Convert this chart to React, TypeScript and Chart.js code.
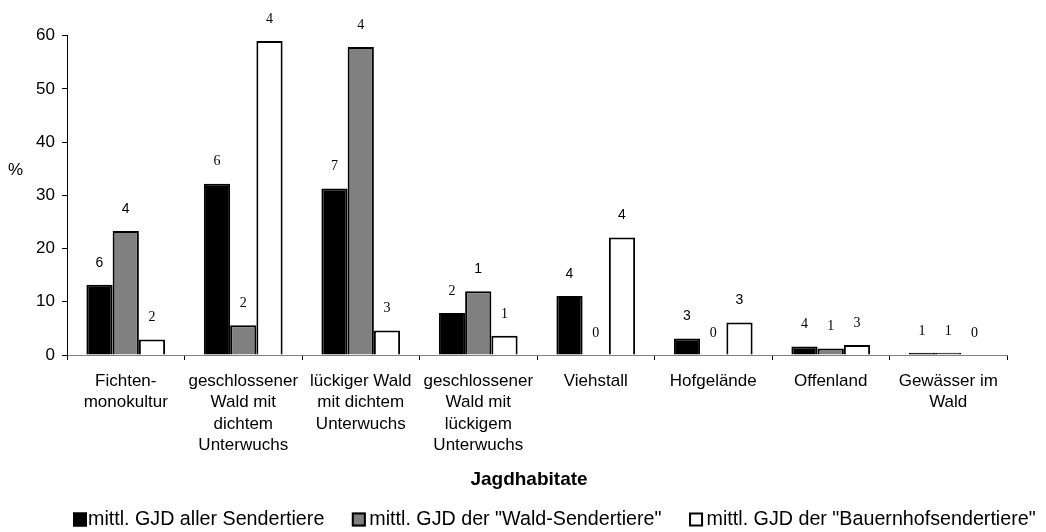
import React, { useEffect, useRef } from "react";
import { Chart, registerables } from "chart.js";

Chart.register(...registerables);

const categories: string[][] = [
  ["Fichten-", "monokultur"],
  ["geschlossener", "Wald mit", "dichtem", "Unterwuchs"],
  ["lückiger Wald", "mit dichtem", "Unterwuchs"],
  ["geschlossener", "Wald mit", "lückigem", "Unterwuchs"],
  ["Viehstall"],
  ["Hofgelände"],
  ["Offenland"],
  ["Gewässer im", "Wald"],
];

const seriesNames = [
  "mittl. GJD aller Sendertiere",
  'mittl. GJD der "Wald-Sendertiere"',
  'mittl. GJD der "Bauernhofsendertiere"',
];

const xTitle = "Jagdhabitate";
const yUnit = "%";

const allSender = [13.2, 32.2, 31.3, 7.9, 11.1, 3.1, 1.6, 0.4];
const waldSender = [23.3, 5.6, 57.9, 12.0, 0, 0, 1.2, 0.4];
const hofSender = [2.9, 59.0, 4.6, 3.6, 22.1, 6.1, 1.9, 0];

const allCounts = ["6", "6", "7", "2", "4", "3", "4", "1"];
const waldCounts = ["4", "2", "4", "1", "0", "0", "1", "1"];
const hofCounts = ["2", "4", "3", "1", "4", "3", "3", "0"];

const yMin = 0;
const yMax = 60;
const yStep = 10;

const SANS = "'Liberation Sans', Arial, Helvetica, sans-serif";
const SERIF = "'Liberation Serif', 'Times New Roman', serif";

// which count labels are set in the sans font in the original (series, category)
const sansCountLabels: number[][] = [
  [0, 0], [1, 0], [1, 3], [0, 4], [2, 4], [0, 5], [2, 5],
];

const countLabels = [allCounts, waldCounts, hofCounts];

const countPlugin = {
  id: "countLabels",
  afterDatasetsDraw(chart: any) {
    const ctx = chart.ctx;
    ctx.save();
    ctx.textAlign = "center";
    ctx.textBaseline = "middle";
    ctx.fillStyle = "#000";
    chart.data.datasets.forEach((_ds: any, i: number) => {
      const meta = chart.getDatasetMeta(i);
      meta.data.forEach((el: any, j: number) => {
        const sans = sansCountLabels.some(([a, b]) => a === i && b === j);
        ctx.font = sans ? `14px ${SANS}` : `14px ${SERIF}`;
        ctx.fillText(countLabels[i][j], el.x, el.y - 22);
      });
    });
    ctx.restore();
  },
};

const extrasPlugin = {
  id: "extras",
  afterDraw(chart: any) {
    const ctx = chart.ctx;
    const area = chart.chartArea;
    ctx.save();
    ctx.fillStyle = "#000";
    ctx.textBaseline = "middle";

    // y unit label
    ctx.font = `17px ${SANS}`;
    ctx.textAlign = "center";
    ctx.fillText(yUnit, 15.5, 170);

    // x axis title
    ctx.font = `bold 19px ${SANS}`;
    ctx.fillText(xTitle, area.left + 462, 480);

    // legend
    const y = 519.5;
    let x = area.left + 6;
    ctx.font = `19.7px ${SANS}`;
    ctx.textAlign = "left";
    chart.data.datasets.forEach((ds: any, i: number) => {
      const box = 14;
      ctx.fillStyle = ds.backgroundColor;
      ctx.fillRect(x, y - box / 2, box, box);
      ctx.strokeStyle = "#000";
      ctx.lineWidth = 2;
      ctx.strokeRect(x + 1, y - box / 2 + 1, box - 2, box - 2);
      ctx.fillStyle = "#000";
      const tx = x + (i === 0 ? 15 : 17.5);
      ctx.fillText(ds.label, tx, y);
      x = tx + ctx.measureText(ds.label).width + 27.5;
    });
    ctx.restore();
  },
};

export default function App() {
  const canvasRef = useRef<HTMLCanvasElement | null>(null);

  useEffect(() => {
    if (!canvasRef.current) return;
    const chart = new Chart(canvasRef.current, {
      type: "bar",
      data: {
        labels: categories,
        datasets: [
          { label: seriesNames[0], data: allSender, backgroundColor: "#000000", borderColor: "#000000", borderWidth: 2 },
          { label: seriesNames[1], data: waldSender, backgroundColor: "#808080", borderColor: "#000000", borderWidth: 2 },
          { label: seriesNames[2], data: hofSender, backgroundColor: "#ffffff", borderColor: "#000000", borderWidth: 2 },
        ],
      },
      options: {
        responsive: false,
        animation: false,
        layout: { padding: { left: 0, right: 39, top: 35.7, bottom: 40.6 } },
        datasets: { bar: { categoryPercentage: 0.67, barPercentage: 1 } },
        plugins: {
          legend: { display: false },
          tooltip: { enabled: false },
          title: { display: false },
        },
        scales: {
          x: {
            grid: { display: true, drawOnChartArea: false, drawTicks: true, tickLength: 5, color: "#000", offset: true },
            border: { display: true, color: "#808080", width: 1 },
            ticks: {
              color: "#000",
              font: { family: SANS, size: 17, lineHeight: 1.247 },
              padding: 11,
              maxRotation: 0,
              minRotation: 0,
              autoSkip: false,
            },
            title: { display: false },
            afterFit: (scale: any) => {
              scale.height = 136.4;
            },
          },
          y: {
            min: yMin,
            max: yMax,
            grid: { display: true, drawOnChartArea: false, drawTicks: true, tickLength: 5, color: "#000" },
            border: { display: true, color: "#000", width: 1 },
            ticks: {
              stepSize: yStep,
              color: "#000",
              font: { family: SANS, size: 17 },
              padding: 7,
            },
            afterFit: (scale: any) => {
              scale.width = 67;
            },
          },
        },
      },
      plugins: [countPlugin, extrasPlugin],
    });
    return () => chart.destroy();
  }, []);

  return (
    <div style={{ width: "1046px", height: "532px", overflow: "hidden" }}>
      <style>{"html,body{margin:0;padding:0;overflow:hidden;}"}</style>
      <canvas ref={canvasRef} width={1046} height={532} style={{ display: "block" }} />
    </div>
  );
}
